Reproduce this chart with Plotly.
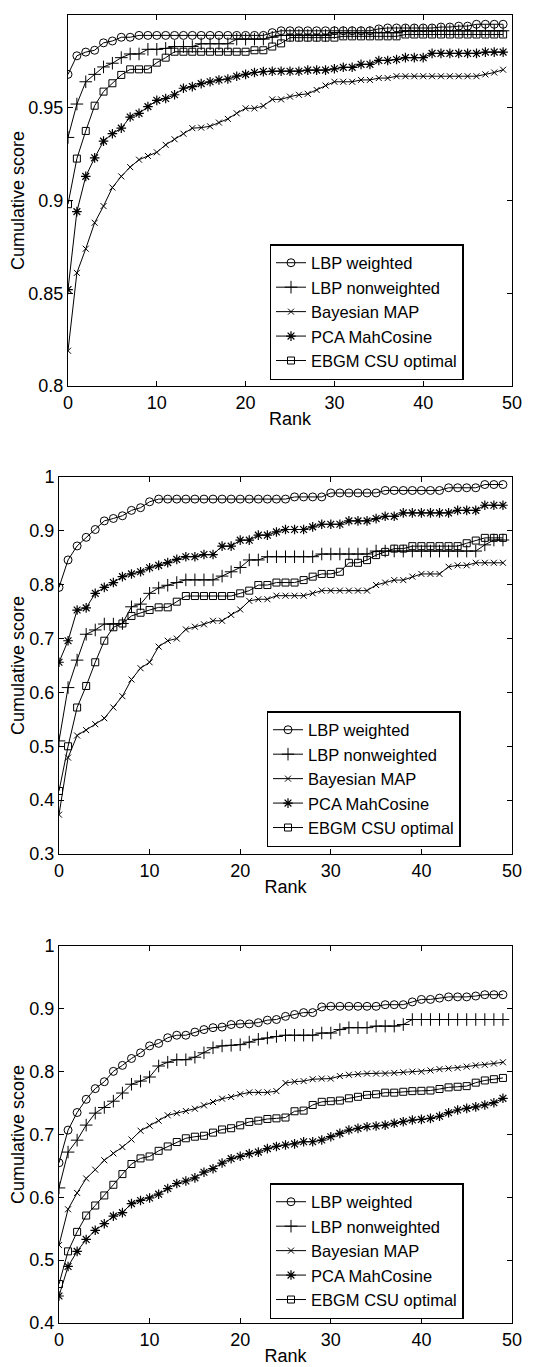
import plotly.graph_objects as go

RANK = list(range(50))
SERIES = ["LBP weighted", "LBP nonweighted", "Bayesian MAP", "PCA MahCosine", "EBGM CSU optimal"]

# ---- Panel 1 ----
P1_LBP_W = [0.968, 0.978, 0.980, 0.981, 0.985, 0.986, 0.988, 0.988] + [0.989] * 15 + [0.9905] + [0.9915] * 11 + [0.9925] + [0.993] * 6 + [0.9935] * 2 + [0.994] * 2 + [0.995] * 4
P1_LBP_NW = [0.934, 0.952, 0.964, 0.968, 0.972, 0.974, 0.977, 0.979, 0.979, 0.9815, 0.9815, 0.982, 0.983, 0.983, 0.983,
             0.9845, 0.9845, 0.9845, 0.9845, 0.987, 0.987, 0.987, 0.987, 0.988, 0.989, 0.989, 0.989, 0.989, 0.989, 0.989] + [0.9905] * 8 + [0.9915] * 12
P1_BAY = [0.819, 0.861, 0.874, 0.888, 0.897, 0.907, 0.913, 0.918, 0.922, 0.924, 0.926, 0.930, 0.933, 0.936, 0.939, 0.9393,
          0.940, 0.942, 0.944, 0.947, 0.9497, 0.9497, 0.951, 0.9545, 0.9545, 0.956, 0.957, 0.9575, 0.9596, 0.962, 0.964, 0.964,
          0.964, 0.965, 0.965, 0.966, 0.966] + [0.967] * 10 + [0.968, 0.969, 0.9705]
P1_PCA = [0.852, 0.894, 0.913, 0.923, 0.932, 0.936, 0.939, 0.945, 0.947, 0.9506, 0.954, 0.955, 0.957, 0.9605, 0.9614, 0.963,
          0.964, 0.965, 0.9655, 0.967, 0.968, 0.969, 0.9695] + [0.9697] * 4 + [0.9703] * 3 + [0.971] + [0.9718] * 2 + [0.9734] * 2 + [0.9755] * 2 + [0.976] + [0.977] * 3 + [0.9793] * 6 + [0.980] * 3
P1_EBGM = [0.898, 0.9226, 0.9375, 0.9511, 0.9587, 0.9632, 0.9677, 0.9707, 0.9707, 0.9707, 0.9743, 0.977, 0.9802] + [0.9802] * 8 + [0.981, 0.981, 0.983, 0.9847] + [0.9878] * 6 + [0.9885] * 7 + [0.9895] * 12

# ---- Panel 2 ----
P2_LBP_W = [0.795, 0.846, 0.872, 0.888, 0.9025, 0.9185, 0.923, 0.928, 0.938, 0.943, 0.954] + [0.959] * 15 + [0.963] * 4 + [0.9704] * 6 + [0.975] * 7 + [0.980] * 4 + [0.986] * 3
P2_LBP_NW = [0.51, 0.609, 0.66, 0.708, 0.716, 0.727, 0.727, 0.728, 0.759, 0.764, 0.784, 0.794, 0.799, 0.804, 0.809, 0.809, 0.809,
             0.809, 0.816, 0.824, 0.832, 0.846, 0.846] + [0.852] * 6 + [0.857] * 6 + [0.8625] * 12 + [0.874, 0.883, 0.883]
P2_BAY = [0.373, 0.479, 0.52, 0.53, 0.541, 0.552, 0.572, 0.593, 0.624, 0.645, 0.656, 0.685, 0.696, 0.70, 0.717, 0.722, 0.7265,
          0.733, 0.733, 0.744, 0.754, 0.770, 0.773, 0.773] + [0.7796] * 4 + [0.784] + [0.789] * 6 + [0.7994, 0.804, 0.8086, 0.8086, 0.815] + [0.82] * 3 + [0.8333, 0.836, 0.836] + [0.8407] * 4
P2_PCA = [0.656, 0.696, 0.753, 0.757, 0.784, 0.795, 0.804, 0.815, 0.820, 0.824, 0.8315, 0.836, 0.841, 0.847, 0.852, 0.852, 0.856,
          0.856, 0.8716, 0.8716, 0.8827, 0.8827, 0.892, 0.892, 0.898, 0.9025, 0.9025, 0.9025, 0.9074, 0.9123, 0.9123, 0.9123,
          0.9185, 0.9185, 0.9185, 0.9228, 0.927, 0.927] + [0.9333] * 6 + [0.938] * 3 + [0.9475] * 3
P2_EBGM = [0.417, 0.50, 0.572, 0.612, 0.656, 0.696, 0.721, 0.728, 0.742, 0.748, 0.753, 0.758, 0.758, 0.7685] + [0.779] * 6 + \
          [0.784, 0.789, 0.7994, 0.7994, 0.804, 0.804, 0.804, 0.8086, 0.815, 0.82, 0.82, 0.824, 0.8407, 0.8407, 0.8457, 0.855, 0.861, 0.867, 0.867] + [0.8716] * 6 + [0.877, 0.882] + [0.887] * 3

# ---- Panel 3 ----
P3_LBP_W = [0.655, 0.707, 0.735, 0.756, 0.773, 0.784, 0.8005, 0.81, 0.821, 0.830, 0.841, 0.845, 0.854, 0.858, 0.858, 0.863, 0.867,
            0.870, 0.871, 0.875, 0.876, 0.876, 0.878, 0.882, 0.883, 0.888, 0.891, 0.894, 0.894, 0.903] + [0.904] * 6 + [0.9066] * 3 + [0.911, 0.915, 0.915, 0.917] + [0.919] * 3 + [0.9204] + [0.9225] * 3
P3_LBP_NW = [0.615, 0.672, 0.691, 0.715, 0.734, 0.743, 0.753, 0.766, 0.78, 0.785, 0.7915, 0.809, 0.815, 0.819, 0.819, 0.823, 0.830,
             0.838, 0.841, 0.842, 0.843, 0.847, 0.8515, 0.8536, 0.856] + [0.858] * 4 + [0.8615, 0.8615, 0.867] + [0.870] * 3 + [0.8725] * 3 + [0.875] + [0.883] * 11
P3_BAY = [0.524, 0.581, 0.607, 0.630, 0.644, 0.659, 0.670, 0.680, 0.692, 0.706, 0.714, 0.722, 0.7305, 0.734, 0.7374, 0.741, 0.7464,
          0.7517, 0.757, 0.7597, 0.764, 0.767, 0.767, 0.767, 0.769, 0.782, 0.784, 0.785, 0.788, 0.789, 0.789, 0.793, 0.795, 0.796,
          0.797, 0.797, 0.797, 0.798, 0.799, 0.800, 0.800, 0.802, 0.804, 0.805, 0.806, 0.808, 0.810, 0.811, 0.813, 0.815]
P3_PCA = [0.443, 0.490, 0.514, 0.533, 0.5475, 0.558, 0.570, 0.5756, 0.590, 0.595, 0.599, 0.605, 0.614, 0.622, 0.626, 0.631, 0.640,
          0.6456, 0.6546, 0.6615, 0.6653, 0.6695, 0.672, 0.6775, 0.681, 0.6833, 0.685, 0.6885, 0.6885, 0.6912, 0.6965, 0.7018,
          0.7071, 0.7098, 0.7124, 0.7135, 0.715, 0.7178, 0.7204, 0.723, 0.724, 0.7257, 0.729, 0.7347, 0.739, 0.7416, 0.744, 0.747,
          0.7506, 0.7576]
P3_EBGM = [0.462, 0.514, 0.545, 0.571, 0.587, 0.603, 0.620, 0.637, 0.653, 0.662, 0.665, 0.674, 0.681, 0.688, 0.694, 0.6965, 0.698,
           0.703, 0.708, 0.710, 0.7146, 0.720, 0.722, 0.7247, 0.7257, 0.727, 0.737, 0.738, 0.747, 0.752, 0.753, 0.754, 0.7576, 0.76,
           0.763, 0.764, 0.7666, 0.7666, 0.768, 0.769, 0.7695, 0.77, 0.7724, 0.775, 0.776, 0.777, 0.7825, 0.786, 0.788, 0.79]

PANELS = [
    [P1_LBP_W, P1_LBP_NW, P1_BAY, P1_PCA, P1_EBGM],
    [P2_LBP_W, P2_LBP_NW, P2_BAY, P2_PCA, P2_EBGM],
    [P3_LBP_W, P3_LBP_NW, P3_BAY, P3_PCA, P3_EBGM],
]

X_TICKS = [0, 10, 20, 30, 40, 50]
Y_TICKS = [
    [0.8, 0.85, 0.9, 0.95, 1.0],
    [0.3, 0.4, 0.5, 0.6, 0.7, 0.8, 0.9, 1.0],
    [0.4, 0.5, 0.6, 0.7, 0.8, 0.9, 1.0],
]
Y_TICKTEXT = [
    ["0.8", "0.85", "0.9", "0.95", "1"],
    ["0.3", "0.4", "0.5", "0.6", "0.7", "0.8", "0.9", "1"],
    ["0.4", "0.5", "0.6", "0.7", "0.8", "0.9", "1"],
]
Y_RANGES = [[0.8, 1.0], [0.3, 1.0], [0.4, 1.0]]

# ---- layout (page pixels; the page body has an 8px margin) ----
OFF = 8
W, H = 554 - OFF, 1367 - OFF


def px_x(x):
    return (x - OFF) / W


def px_y(y):
    return 1 - (y - OFF) / H


FONT = "Liberation Sans, Arial, Helvetica, sans-serif"
SYMBOLS = ["circle-open", "cross-thin-open", "x-thin-open", "asterisk-open", "square-open"]
SIZES = [8, 9, 6, 8, 7]
MLW = [1, 1, 1, 1.2, 1]
X_DOMAINS = [[px_x(68), px_x(512)], [px_x(59), px_x(512)], [px_x(59), px_x(512)]]
Y_DOMAINS = [[px_y(386), px_y(15)], [px_y(854), px_y(477)], [px_y(1323), px_y(946)]]
LEGEND_POS = [(px_x(366.5), px_y(312)), (px_x(363.5), px_y(779)), (px_x(366.5), px_y(1251))]
YTITLE_STANDOFF = [3, 3, 3]

fig = go.Figure()
for p, series in enumerate(PANELS):
    sfx = "" if p == 0 else str(p + 1)
    for k, ys in enumerate(series):
        fig.add_trace(go.Scatter(
            x=RANK, y=ys, name=SERIES[k], mode="lines+markers",
            xaxis="x" + sfx, yaxis="y" + sfx,
            legend="legend" + sfx,
            line=dict(color="black", width=1),
            marker=dict(symbol=SYMBOLS[k], size=SIZES[k], color="black",
                        line=dict(color="black", width=MLW[k])),
        ))

layout = dict(
    width=W, height=H, paper_bgcolor="white", plot_bgcolor="white",
    margin=dict(l=0, r=0, t=0, b=0),
    font=dict(family=FONT, size=18, color="black"),
)
for p in range(3):
    sfx = "" if p == 0 else str(p + 1)
    layout["xaxis" + sfx] = dict(
        domain=X_DOMAINS[p], range=[0, 50], anchor="y" + sfx,
        tickvals=X_TICKS, ticktext=[str(v) for v in X_TICKS],
        ticks="inside", ticklen=5, tickcolor="black", tickwidth=1,
        showline=True, linecolor="black", linewidth=1, mirror="ticks",
        showgrid=False, zeroline=False, automargin=False,
        title=dict(text="Rank", standoff=0, font=dict(size=18)),
        tickfont=dict(size=18),
    )
    layout["yaxis" + sfx] = dict(
        domain=Y_DOMAINS[p], range=Y_RANGES[p], anchor="x" + sfx,
        tickvals=Y_TICKS[p], ticktext=Y_TICKTEXT[p],
        ticks="inside", ticklen=5, tickcolor="black", tickwidth=1,
        showline=True, linecolor="black", linewidth=1, mirror="ticks",
        showgrid=False, zeroline=False, automargin=False,
        title=dict(text="Cumulative score", standoff=YTITLE_STANDOFF[p], font=dict(size=18)),
        tickfont=dict(size=18),
    )
    layout["legend" + sfx] = dict(
        x=LEGEND_POS[p][0], y=LEGEND_POS[p][1], xanchor="center", yanchor="middle",
        xref="paper", yref="paper",
        bgcolor="white", bordercolor="black", borderwidth=1.5,
        font=dict(size=16.5, family=FONT), itemwidth=30,
        tracegroupgap=0,
    )

fig.update_layout(**layout)
fig.write_html("out.html")
